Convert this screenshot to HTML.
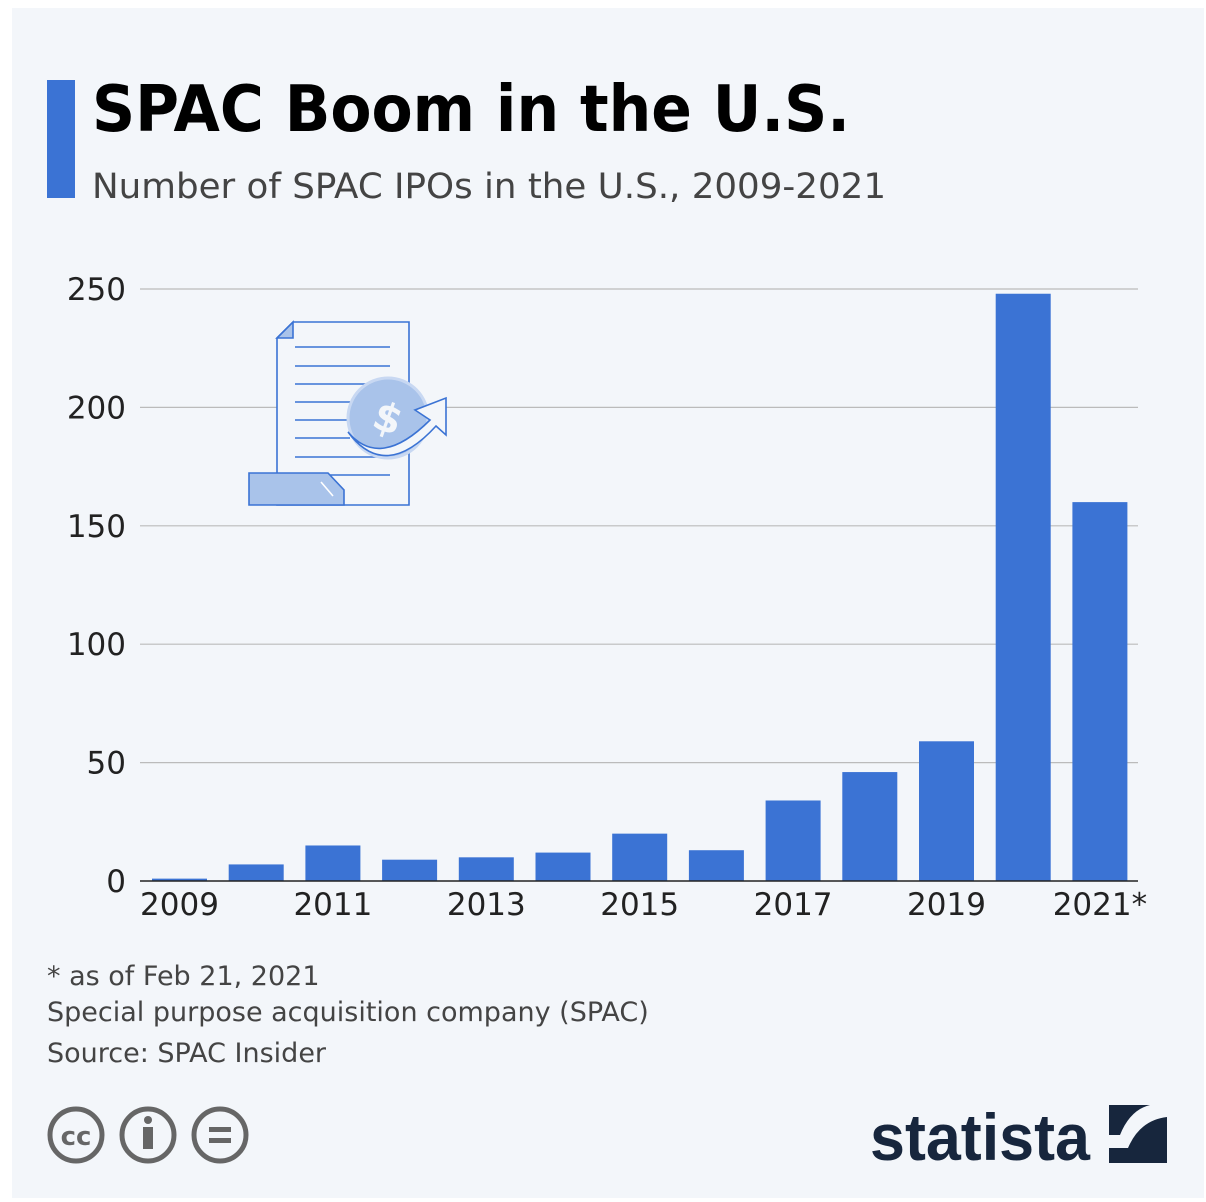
<!DOCTYPE html>
<html><head><meta charset="utf-8"><style>
html,body{margin:0;padding:0;background:#fff;width:1206px;height:1202px;overflow:hidden}
svg{display:block;font-family:"DejaVu Sans","Liberation Sans",sans-serif}
</style></head><body>
<svg id="chart" width="1206" height="1202" xmlns="http://www.w3.org/2000/svg">
<rect x="12" y="8" width="1192" height="1190" fill="#f3f6fa"/>
<rect x="47" y="80" width="28" height="118" fill="#3b73d4"/>
<text x="92" y="131" font-size="64" font-weight="bold" fill="#000" textLength="758" lengthAdjust="spacingAndGlyphs">SPAC Boom in the U.S.</text>
<text x="92" y="198" font-size="35" fill="#444" textLength="794" lengthAdjust="spacingAndGlyphs">Number of SPAC IPOs in the U.S., 2009-2021</text>
<g id="grid"></g>
<g id="icon" fill="none" stroke="#3b73d4" stroke-width="1.6">
<path d="M293,322 L409,322 L409,505 L277,505 L277,338 Z" fill="#f3f6fa"/>
<path d="M277,338 L293,338 L293,322 Z" fill="#a9c3ea"/>
<line x1="295" y1="347" x2="390" y2="347"/><line x1="295" y1="366" x2="390" y2="366"/>
<line x1="295" y1="384" x2="390" y2="384"/><line x1="295" y1="402" x2="350" y2="402"/>
<line x1="295" y1="420" x2="350" y2="420"/><line x1="295" y1="438" x2="350" y2="438"/>
<line x1="295" y1="457" x2="390" y2="457"/><line x1="295" y1="475" x2="390" y2="475"/>
<circle cx="388" cy="418" r="40" fill="#a9c3ea" stroke="#c8d8f2" stroke-width="3"/>
<text x="388" y="432" font-size="40" font-weight="bold" fill="#f3f6fa" stroke="none" text-anchor="middle" transform="rotate(20 388 418)">$</text>
<path d="M348,432 Q380,470 430,420 L415,410 L446,398 L446,435 L436,426 Q385,482 348,432 Z" fill="#f3f6fa"/>
<path d="M249,473 L328,473 L344,490 L344,505 L249,505 Z" fill="#a9c3ea"/>
<line x1="321" y1="482" x2="333" y2="496" stroke="#fff"/>
</g>
<g id="bars"></g>
<g id="yaxis"></g>
<g id="xaxis"></g>
<text x="47" y="985" font-size="27" fill="#444">* as of Feb 21, 2021</text>
<text x="47" y="1021" font-size="27" fill="#444">Special purpose acquisition company (SPAC)</text>
<text x="47" y="1062" font-size="27" fill="#444">Source: SPAC Insider</text>
<g fill="none" stroke="#666" stroke-width="5">
<circle cx="76" cy="1135" r="26"/><text x="76" y="1145" font-size="26" font-weight="bold" fill="#666" stroke="none" text-anchor="middle">cc</text>
<circle cx="148" cy="1135" r="26"/><circle cx="148" cy="1120" r="4" fill="#666" stroke="none"/><rect x="143" y="1127" width="10" height="22" fill="#666" stroke="none"/>
<circle cx="220" cy="1135" r="26"/><rect x="209" y="1127" width="22" height="5" fill="#666" stroke="none"/><rect x="209" y="1138" width="22" height="5" fill="#666" stroke="none"/>
</g>
<text x="870" y="1160" font-size="66" font-weight="bold" fill="#17263d" font-family="Liberation Sans Narrow, Liberation Sans, sans-serif" textLength="220" lengthAdjust="spacingAndGlyphs">statista</text>
<g><rect x="1109" y="1105" width="58" height="58" fill="#17263d"/><path d="M1109,1148 L1128,1148 Q1140,1120 1167,1117 L1167,1105 L1150,1105 Q1130,1110 1120,1135 L1109,1135 Z" fill="#f3f6fa"/></g>
</svg>
<script>
const categories=["2009","2010","2011","2012","2013","2014","2015","2016","2017","2018","2019","2020","2021"];
const values=[1,7,15,9,10,12,20,13,34,46,59,248,160];
const yTicks=[0,50,100,150,200,250];
const xLabels=["2009","","2011","","2013","","2015","","2017","","2019","","2021*"];
const NS="http://www.w3.org/2000/svg";
const y0=881,pxPer=(881-289)/250,x0=152,step=76.7,bw=55;
const yScale=v=>y0-v*pxPer;
const xScale=i=>x0+i*step;
function mk(t,a,p){const e=document.createElementNS(NS,t);for(const k in a)e.setAttribute(k,a[k]);p.appendChild(e);return e;}
const grid=document.getElementById('grid'),ya=document.getElementById('yaxis'),xa=document.getElementById('xaxis'),bars=document.getElementById('bars');
yTicks.forEach(v=>{
 if(v>0){const l=mk('line',{x1:140,x2:1138,y1:yScale(v),y2:yScale(v),stroke:'#bbb','stroke-width':1.2},grid);
 
 }
 const t=mk('text',{x:126,y:yScale(v)+11,'font-size':31,fill:'#222','text-anchor':'end'},ya);t.textContent=v;
 
 
});
values.forEach((v,i)=>{
 const r=mk('rect',{x:xScale(i),y:yScale(v),width:bw,height:v*pxPer,fill:'#3b73d4'},bars);
 
 
 if(xLabels[i]){const t=mk('text',{x:xScale(i)+bw/2,y:915,'font-size':31,fill:'#222','text-anchor':'middle'},xa);t.textContent=xLabels[i];
 
 }
});
const base=mk('line',{x1:140,x2:1138,y1:y0,y2:y0,stroke:'#222','stroke-width':1.5},xa);


</script>
</body></html>
